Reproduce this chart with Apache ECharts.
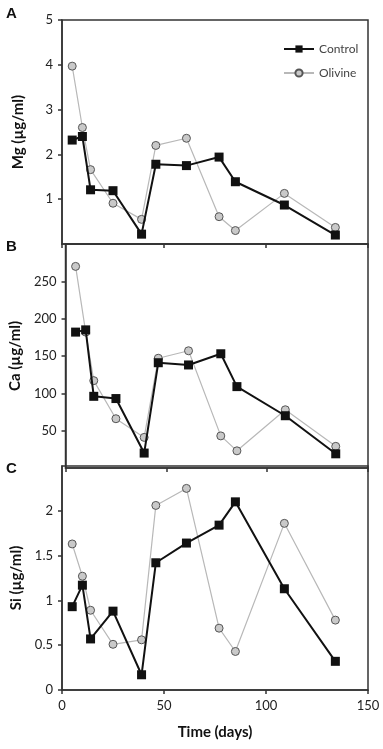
<!DOCTYPE html>
<html>
<head>
<meta charset="utf-8">
<script src="https://cdn.jsdelivr.net/npm/echarts@6/dist/echarts.min.js"></script>
<style>
  html, body { margin: 0; padding: 0; background: #fff; }
  #chart { width: 383px; height: 749px; }
</style>
</head>
<body>
<div id="chart"></div>
<script>
// sampling days (shared by all panels)
const days = [5, 10, 14, 25, 39, 46, 61, 77, 85, 109, 134];

// Mg (µg/ml)
const mgControl = [2.32, 2.40, 1.21, 1.19, 0.22, 1.78, 1.75, 1.94, 1.39, 0.87, 0.20];
const mgOlivine = [3.97, 2.60, 1.66, 0.91, 0.55, 2.20, 2.36, 0.61, 0.30, 1.13, 0.37];

// Ca (µg/ml)
const caControl = [182, 185, 96, 93, 20, 141, 138, 153, 109, 70, 19];
const caOlivine = [270, 182, 117, 66, 41, 147, 157, 43, 23, 78, 29];

// Si (µg/ml)
const siControl = [0.93, 1.17, 0.57, 0.88, 0.17, 1.42, 1.64, 1.84, 2.10, 1.13, 0.32];
const siOlivine = [1.63, 1.27, 0.89, 0.51, 0.56, 2.06, 2.25, 0.69, 0.43, 1.86, 0.78];

const panels = [
  { letter: 'A', name: 'Mg (µg/ml)', max: 5, interval: 1, control: mgControl, olivine: mgOlivine },
  { letter: 'B', name: 'Ca (µg/ml)', max: 300, interval: 50, control: caControl, olivine: caOlivine },
  { letter: 'C', name: 'Si (µg/ml)', max: 2.5, interval: 0.5, control: siControl, olivine: siOlivine }
];

const font = 'Lato, "Open Sans", sans-serif';
const gridTops = [20, 244, 466];
const gridH = 224;

const pair = (vals) => days.map((d, i) => [d, vals[i]]);

const chart = echarts.init(document.getElementById('chart'), null, { renderer: 'canvas' });

const option = {
  animation: false,
  backgroundColor: '#fff',
  textStyle: { fontFamily: font },
  legend: {
    orient: 'vertical',
    left: 278,
    top: 38,
    itemWidth: 30,
    itemHeight: 9,
    itemGap: 12,
    data: ['Control', 'Olivine'],
    textStyle: { fontFamily: font, fontSize: 12, color: '#444' }
  },
  graphic: panels.map((p, i) => ({
    type: 'text',
    left: 6,
    top: [6, 239, 461][i],
    style: { text: p.letter, font: 'bold 15px "Liberation Sans", Arial, sans-serif', fill: '#111' }
  })),
  grid: gridTops.map((t) => ({
    left: 62, right: 15, top: t, height: gridH,
    show: true, borderColor: '#333', borderWidth: 1.5, backgroundColor: 'transparent'
  })),
  xAxis: panels.map((p, i) => ({
    type: 'value',
    gridIndex: i,
    min: 0, max: 150, interval: 50,
    axisLine: { show: true, lineStyle: { color: '#333', width: 1.5 } },
    axisTick: { show: true, length: 4, lineStyle: { color: '#333', width: 1.5 } },
    axisLabel: { show: i === 2, fontFamily: font, fontSize: 13, color: '#222', margin: 9 },
    splitLine: { show: false },
    name: i === 2 ? 'Time (days)' : '',
    nameLocation: 'middle',
    nameGap: 35,
    nameTextStyle: { fontFamily: font, fontSize: 15, fontWeight: 'bold', color: '#111' }
  })),
  yAxis: panels.map((p, i) => ({
    type: 'value',
    gridIndex: i,
    min: 0, max: p.max, interval: p.interval,
    axisLine: { show: true, lineStyle: { color: '#333', width: 1.5 } },
    axisTick: { show: true, length: 4, lineStyle: { color: '#333', width: 1.5 } },
    axisLabel: {
      fontFamily: font, fontSize: 13, color: '#222', margin: 9,
      showMinLabel: i === 2, showMaxLabel: i === 0
    },
    splitLine: { show: false },
    name: p.name,
    nameLocation: 'middle',
    nameGap: 36,
    nameTextStyle: { fontFamily: font, fontSize: 15, fontWeight: 'bold', color: '#111' }
  })),
  series: panels.flatMap((p, i) => [
    {
      name: 'Olivine',
      type: 'line',
      xAxisIndex: i, yAxisIndex: i,
      data: pair(p.olivine),
      symbol: 'circle',
      symbolSize: 8,
      z: 2,
      lineStyle: { color: '#b8b8b8', width: 1.2 },
      itemStyle: { color: '#c9c9c9', borderColor: '#555', borderWidth: 1 }
    },
    {
      name: 'Control',
      type: 'line',
      xAxisIndex: i, yAxisIndex: i,
      data: pair(p.control),
      symbol: 'rect',
      symbolSize: 9,
      z: 3,
      lineStyle: { color: '#111', width: 2 },
      itemStyle: { color: '#111' }
    }
  ])
};

chart.setOption(option);
</script>
</body>
</html>
